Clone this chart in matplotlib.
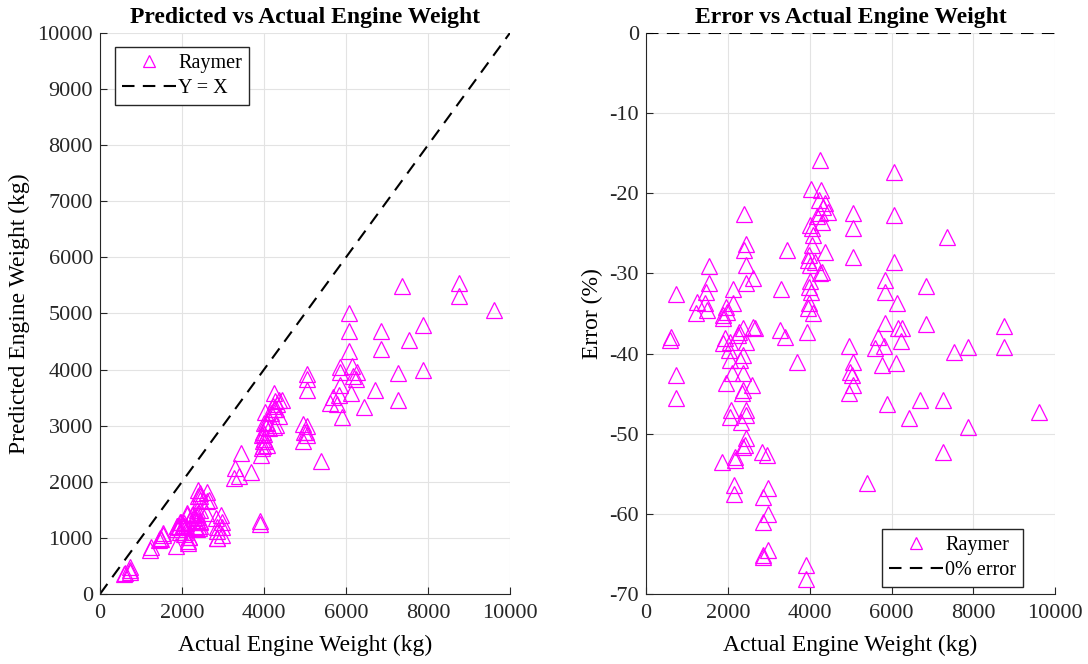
import matplotlib
matplotlib.use('Agg')
import matplotlib.pyplot as plt

plt.rcParams['font.family'] = ['Liberation Serif', 'DejaVu Serif']
plt.rcParams['axes.unicode_minus'] = False

# actual engine weight (kg)
actual = [611, 587, 733, 733, 733,
          1540, 1540, 1467, 1247, 1443, 1491, 1222,
          2127, 2127, 1956, 1980, 1883, 1883, 1932, 1883, 2054, 2029, 2054, 2103,
          1956, 2078, 2054, 1858, 2176, 2176, 2152, 2152,
          2396, 2445, 2396, 2445, 2616, 2445, 2616, 2665, 2274, 2372, 2249, 2445,
          2372, 2298, 2372, 2592, 2372, 2347, 2445, 2445, 2323, 2445, 2421, 2372,
          2836, 2958, 2983, 2861, 2983, 2861, 2983, 2861, 2861,
          3300, 3276, 3398, 3447, 3692,
          4254, 4034, 4279, 4230, 4377, 4328, 4450, 4254, 4181, 4303, 4010, 4059,
          4083, 4059, 4377, 3985, 3961, 4132, 4010, 4303, 4254, 4010, 3985, 4034,
          3985, 3961, 4083, 3936, 3912, 3912,
          5061, 5061, 5061, 4963, 5061, 4988, 5037, 5061, 4963,
          5403, 5599, 5672, 5770, 5892, 5844, 5844, 5844, 5819, 6064, 6064, 6064,
          6137, 6161, 6259, 6235, 6113, 6430,
          6699, 6846, 6846, 7262, 7262, 7359, 7531, 7873, 7873, 8753, 8753, 9609]

# Raymer predicted engine weight (kg)
predicted = [380, 360, 490, 420, 400,
             1090, 1060, 990, 830, 960, 980, 790,
             1450, 1410, 1290, 1290, 1220, 1210, 1200, 1150, 1260, 1230, 1220, 1210,
             1100, 1100, 1070, 860, 1020, 1020, 940, 910,
             1850, 1800, 1750, 1740, 1820, 1680, 1660, 1680, 1430, 1500, 1400, 1500,
             1420, 1360, 1370, 1450, 1320, 1290, 1300, 1280, 1200, 1210, 1180, 1150,
             1350, 1400, 1290, 1200, 1190, 1120, 1060, 1000, 990,
             2240, 2060, 2110, 2510, 2180,
             3580, 3250, 3440, 3350, 3450, 3390, 3460, 3300, 3220, 3290, 3050, 3070,
             3050, 2980, 3180, 2880, 2840, 2950, 2850, 3020, 2980, 2770, 2720, 2730,
             2640, 2600, 2660, 2470, 1310, 1250,
             3920, 3830, 3640, 3030, 2990, 2880, 2890, 2840, 2730,
             2370, 3400, 3520, 3380, 3160, 4040, 3960, 3730, 3550, 5010, 4690, 4330,
             4070, 3890, 3960, 3840, 3590, 3340,
             3630, 4680, 4360, 3940, 3460, 5490, 4530, 4790, 4000, 5550, 5320, 5060]

# error (%)
error = [-37.9, -38.3, -32.6, -42.7, -45.5,
         -29.1, -31.2, -32.3, -33.6, -33.7, -34.6, -35.0,
         -32.0, -33.7, -34.2, -34.8, -35.2, -35.6, -38.1, -38.7, -38.5, -39.6, -40.8, -42.4,
         -43.7, -47.0, -47.9, -53.5, -52.9, -53.3, -56.4, -57.5,
         -22.6, -26.3, -27.1, -29.0, -30.6, -31.2, -36.7, -36.8, -37.3, -36.8, -37.7, -38.5,
         -40.2, -40.8, -42.4, -43.9, -44.5, -44.9, -47.0, -47.7, -48.5, -50.5, -51.4, -51.6,
         -52.3, -52.7, -56.8, -57.9, -60.0, -61.0, -64.5, -65.1, -65.4,
         -32.0, -37.1, -37.9, -27.1, -41.0,
         -15.8, -19.5, -19.6, -20.8, -21.2, -21.7, -22.3, -22.5, -22.9, -23.6, -24.0, -24.3,
         -25.2, -26.5, -27.3, -27.7, -28.3, -28.6, -28.9, -29.8, -30.0, -31.0, -31.7, -32.3,
         -33.7, -34.3, -34.9, -37.3, -66.4, -68.1,
         -22.5, -24.3, -28.0, -39.0, -41.0, -42.3, -42.7, -43.9, -44.9,
         -56.2, -39.3, -37.9, -41.4, -46.3, -30.8, -32.3, -36.2, -39.0, -17.3, -22.7, -28.6,
         -33.7, -36.8, -36.8, -38.4, -41.2, -48.0,
         -45.8, -31.6, -36.3, -45.8, -52.3, -25.4, -39.8, -39.2, -49.2, -36.6, -39.2, -47.3]

line_xy = [0, 10000]

fig = plt.figure(figsize=(10.88, 6.64), dpi=100)
ax1 = fig.add_axes([0.0919, 0.1054, 0.3768, 0.845])
ax2 = fig.add_axes([0.5938, 0.1054, 0.3760, 0.845])

mk = dict(linestyle='none', marker='^', markersize=11, markerfacecolor='none',
          markeredgecolor='#ff00ff', markeredgewidth=0.9)
leg_kw = dict(fontsize=14.5, fancybox=False, edgecolor='#262626', framealpha=1,
              borderaxespad=0, handlelength=2.7, handletextpad=0.1,
              markerscale=0.75, borderpad=0.35, labelspacing=0.3)

ax1.plot(actual, predicted, label='Raymer', **mk)
ax1.plot(line_xy, line_xy, 'k--', lw=1.5, dashes=(6, 4), label='Y = X')
ax1.set_xlim(0, 10000)
ax1.set_ylim(0, 10000)
ax1.set_xticks(range(0, 10001, 2000))
ax1.set_yticks(range(0, 10001, 1000))
ax1.set_title('Predicted vs Actual Engine Weight', fontsize=17, fontweight='bold', pad=7)
ax1.set_xlabel('Actual Engine Weight (kg)', fontsize=17, labelpad=9)
ax1.set_ylabel('Predicted Engine Weight (kg)', fontsize=17, labelpad=5)
ax1.legend(loc='upper left', bbox_to_anchor=(0.0366, 0.975), **leg_kw)

ax2.plot(actual, error, label='Raymer', **mk)
ax2.plot(line_xy, [0, 0], 'k--', lw=1.5, dashes=(6, 4), label='0% error')
ax2.set_xlim(0, 10000)
ax2.set_ylim(-70, 0)
ax2.set_xticks(range(0, 10001, 2000))
ax2.set_yticks(range(-70, 1, 10))
ax2.set_title('Error vs Actual Engine Weight', fontsize=17, fontweight='bold', pad=7)
ax2.set_xlabel('Actual Engine Weight (kg)', fontsize=17, labelpad=9)
ax2.set_ylabel('Error (%)', fontsize=17, labelpad=5)
ax2.legend(loc='lower right', bbox_to_anchor=(0.922, 0.0125), **leg_kw)

for ax in (ax1, ax2):
    ax.grid(True, color='#e3e3e3', lw=0.8)
    ax.set_axisbelow(True)
    ax.spines['top'].set_visible(False)
    ax.spines['right'].set_visible(False)
    ax.spines['left'].set_color('#262626')
    ax.spines['bottom'].set_color('#262626')
    ax.tick_params(direction='in', length=5, labelsize=16, colors='#262626',
                   labelcolor='#262626')
    ax.tick_params(axis='x', pad=7)
    ax.tick_params(axis='y', pad=5)

plt.savefig('out.png', dpi=100)
